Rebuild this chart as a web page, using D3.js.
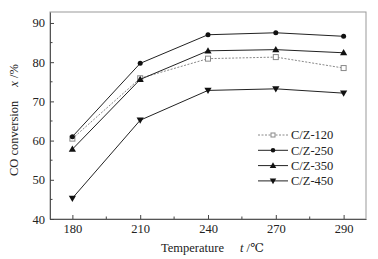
<!DOCTYPE html>
<html>
<head>
<meta charset="utf-8">
<title>CO conversion</title>
<style>
  body { margin: 0; background: #fff; }
  svg text { font-family: "Liberation Serif", "DejaVu Serif", serif; fill: #222; }
</style>
</head>
<body>
<script src="https://d3js.org/d3.v7.min.js"></script>
<script>
const temps = ["180", "210", "240", "270", "290"];
const yTicks = [40, 50, 60, 70, 80, 90];
const seriesNames = ["C/Z-120", "C/Z-250", "C/Z-350", "C/Z-450"];
const cz120 = [60.5, 75.9, 80.9, 81.3, 78.5];
const cz250 = [61.0, 79.7, 87.0, 87.5, 86.6];
const cz350 = [57.8, 75.6, 82.9, 83.2, 82.4];
const cz450 = [45.3, 65.2, 72.8, 73.2, 72.1];

const W = 378, H = 259;
const mLeft = 50, mRight = 366, mTop = 12, mBottom = 219;

const svg = d3.select("body").append("svg")
    .attr("width", W).attr("height", H);

const x = d3.scalePoint().domain(temps).range([mLeft, mRight]).padding(0.33);
const y = d3.scaleLinear().domain([40, 92.8]).range([mBottom, mTop]);

// frame
svg.append("rect")
    .attr("x", mLeft).attr("y", mTop)
    .attr("width", mRight - mLeft).attr("height", mBottom - mTop)
    .attr("fill", "none").attr("stroke", "#999").attr("stroke-width", 1);

// axes, ticks inward
const xAxis = svg.append("g")
    .attr("transform", "translate(0," + mBottom + ")")
    .call(d3.axisBottom(x).tickSizeInner(-4).tickSizeOuter(0).tickPadding(5));
const yAxis = svg.append("g")
    .attr("transform", "translate(" + mLeft + ",0)")
    .call(d3.axisLeft(y).tickValues(yTicks).tickSizeInner(-4).tickSizeOuter(0).tickPadding(5));

[xAxis, yAxis].forEach(g => {
  g.select(".domain").attr("stroke", "#555");
  g.selectAll(".tick line").attr("stroke", "#444");
  g.selectAll("text").style("font-size", "12.5px").attr("fill", "#222");
});

// minor ticks
const mids = temps.slice(0, -1).map((t, i) => (x(t) + x(temps[i + 1])) / 2);
svg.append("g").selectAll("line").data(mids).join("line")
    .attr("x1", d => d).attr("x2", d => d)
    .attr("y1", mBottom).attr("y2", mBottom - 2.5)
    .attr("stroke", "#444");
svg.append("g").selectAll("line").data([45, 55, 65, 75, 85]).join("line")
    .attr("x1", mLeft).attr("x2", mLeft + 2.5)
    .attr("y1", d => y(d)).attr("y2", d => y(d))
    .attr("stroke", "#444");

const series = [
  { name: seriesNames[0], values: cz120, color: "#888", dash: "2,1.5", marker: "square" },
  { name: seriesNames[1], values: cz250, color: "#222", dash: null, marker: "circle" },
  { name: seriesNames[2], values: cz350, color: "#222", dash: null, marker: "up" },
  { name: seriesNames[3], values: cz450, color: "#222", dash: null, marker: "down" }
];

function drawMarker(g, type, cx, cy, s) {
  if (type === "square") {
    g.append("rect").attr("x", cx - s / 2).attr("y", cy - s / 2)
      .attr("width", s).attr("height", s)
      .attr("fill", "#fff").attr("stroke", "#888").attr("stroke-width", 1);
  } else if (type === "circle") {
    g.append("circle").attr("cx", cx).attr("cy", cy).attr("r", s / 2)
      .attr("fill", "#111");
  } else if (type === "up") {
    g.append("path").attr("d", d3.symbol().type(d3.symbolTriangle).size(s * s * 0.9)())
      .attr("transform", "translate(" + cx + "," + (cy + 0.5) + ")").attr("fill", "#111");
  } else {
    g.append("path").attr("d", d3.symbol().type(d3.symbolTriangle).size(s * s * 0.9)())
      .attr("transform", "translate(" + cx + "," + (cy - 0.5) + ") rotate(180)").attr("fill", "#111");
  }
}

const line = d3.line().x((d, i) => x(temps[i])).y(d => y(d));

series.forEach(s => {
  const g = svg.append("g");
  g.append("path").datum(s.values)
    .attr("d", line)
    .attr("fill", "none")
    .attr("stroke", s.color)
    .attr("stroke-width", 1)
    .attr("stroke-dasharray", s.dash);
  s.values.forEach((v, i) => drawMarker(g, s.marker, x(temps[i]), y(v), 5));
});

// legend
const legend = svg.append("g");
series.forEach((s, i) => {
  const ly = 135 + i * 15.3;
  const g = legend.append("g");
  g.append("line").attr("x1", 258).attr("x2", 288).attr("y1", ly).attr("y2", ly)
    .attr("stroke", s.color).attr("stroke-dasharray", s.dash);
  drawMarker(g, s.marker, 273, ly, s.marker === "square" ? 4 : 4.5);
  g.append("text").attr("x", 291).attr("y", ly + 4.3)
    .style("font-size", "12.5px").text(s.name);
});

// axis titles
const xt = svg.append("text").attr("x", 161).attr("y", 252).style("font-size", "12.5px");
xt.append("tspan").text("Temperature");
xt.append("tspan").attr("dx", 16).style("font-style", "italic").text("t");
xt.append("tspan").text(" /℃");

const yt = svg.append("text")
    .attr("transform", "translate(18," + 176 + ") rotate(-90)")
    .style("font-size", "12.5px");
yt.append("tspan").text("CO conversion");
yt.append("tspan").attr("dx", 14).style("font-style", "italic").text("x");
yt.append("tspan").text(" /%");
</script>
</body>
</html>
